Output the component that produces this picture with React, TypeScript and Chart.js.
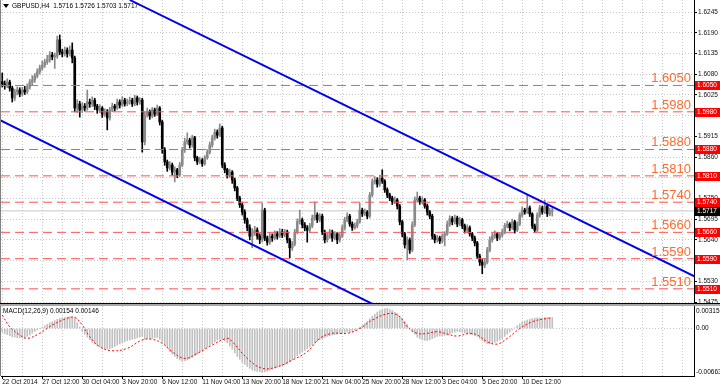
import React, { useEffect, useRef } from 'react';
import { Chart, registerables } from 'chart.js';
Chart.register(...registerables);

// ---------- text ----------
const symbolTitle = 'GBPUSD,H4  1.5716 1.5726 1.5703 1.5717';
const macdTitle = 'MACD(12,26,9) 0.00154 0.00146';
const timeLabels = ['22 Oct 2014', '27 Oct 12:00', '30 Oct 04:00', '3 Nov 20:00', '6 Nov 12:00', '11 Nov 04:00', '13 Nov 20:00', '18 Nov 12:00', '21 Nov 04:00', '25 Nov 20:00', '28 Nov 12:00', '3 Dec 04:00', '5 Dec 20:00', '10 Dec 12:00'];
const barsPerTimeLabel = 16;
const barsPerGridLine = 8;

// ---------- H4 candles ----------
const opens = [
  1.6060,1.6054,1.6049,1.6059,1.6043,1.6017,1.6033,1.6038,1.6027,1.6038,
  1.6033,1.6046,1.6059,1.6065,1.6075,1.6086,1.6096,1.6104,1.6112,1.6118,
  1.6131,1.6126,1.6128,1.6171,1.6139,1.6134,1.6144,1.6134,1.6144,1.6123,
  1.5990,1.6001,1.5985,1.5995,1.5990,1.6006,1.6001,1.6011,1.5995,1.5985,
  1.5990,1.5974,1.5980,1.5964,1.5985,1.5995,1.5990,1.6006,1.5998,1.6011,
  1.6001,1.6006,1.6011,1.6001,1.6017,1.6006,1.6011,1.5900,1.5972,1.5980,
  1.5969,1.5985,1.5974,1.5990,1.5953,1.5879,1.5847,1.5831,1.5839,1.5820,
  1.5826,1.5812,1.5839,1.5879,1.5900,1.5905,1.5892,1.5911,1.5858,1.5847,
  1.5852,1.5842,1.5858,1.5873,1.5892,1.5911,1.5926,1.5918,1.5937,1.5839,
  1.5826,1.5812,1.5820,1.5799,1.5778,1.5751,1.5733,1.5714,1.5693,1.5672,
  1.5650,1.5661,1.5666,1.5650,1.5640,1.5719,1.5645,1.5634,1.5650,1.5645,
  1.5656,1.5650,1.5661,1.5653,1.5661,1.5640,1.5619,1.5629,1.5661,1.5688,
  1.5693,1.5680,1.5672,1.5666,1.5677,1.5698,1.5706,1.5693,1.5703,1.5661,
  1.5640,1.5650,1.5661,1.5645,1.5656,1.5640,1.5650,1.5672,1.5693,1.5703,
  1.5682,1.5672,1.5677,1.5688,1.5719,1.5709,1.5714,1.5703,1.5759,1.5794,
  1.5799,1.5788,1.5804,1.5796,1.5773,1.5759,1.5751,1.5741,1.5746,1.5730,
  1.5688,1.5656,1.5627,1.5640,1.5613,1.5680,1.5746,1.5751,1.5741,1.5746,
  1.5730,1.5714,1.5703,1.5650,1.5640,1.5645,1.5637,1.5650,1.5656,1.5682,
  1.5696,1.5688,1.5698,1.5682,1.5693,1.5677,1.5666,1.5672,1.5656,1.5645,
  1.5632,1.5597,1.5581,1.5573,1.5581,1.5613,1.5640,1.5650,1.5656,1.5645,
  1.5653,1.5661,1.5677,1.5682,1.5672,1.5688,1.5666,1.5682,1.5706,1.5719,
  1.5714,1.5725,1.5709,1.5677,1.5666,1.5706,1.5725,1.5714,1.5730,1.5709,
  1.5716,
];
const highs = [
  1.6083,1.6062,1.6068,1.6064,1.6048,1.6040,1.6046,1.6044,1.6045,1.6048,
  1.6054,1.6066,1.6076,1.6082,1.6094,1.6104,1.6115,1.6120,1.6130,1.6140,
  1.6138,1.6136,1.6181,1.6184,1.6146,1.6152,1.6150,1.6155,1.6163,1.6128,
  1.6012,1.6008,1.6004,1.6002,1.6038,1.6014,1.6020,1.6016,1.6000,1.5999,
  1.5994,1.5988,1.5986,1.5992,1.6003,1.6000,1.6014,1.6012,1.6020,1.6016,
  1.6014,1.6019,1.6016,1.6024,1.6022,1.6018,1.6016,1.5980,1.5990,1.5985,
  1.5992,1.5990,1.5998,1.5994,1.5958,1.5885,1.5852,1.5848,1.5844,1.5834,
  1.5830,1.5846,1.5886,1.5910,1.5924,1.5910,1.5918,1.5915,1.5862,1.5860,
  1.5856,1.5864,1.5880,1.5900,1.5918,1.5934,1.5932,1.5948,1.5942,1.5845,
  1.5830,1.5828,1.5824,1.5804,1.5782,1.5756,1.5738,1.5720,1.5698,1.5680,
  1.5670,1.5676,1.5672,1.5656,1.5738,1.5724,1.5650,1.5658,1.5656,1.5664,
  1.5662,1.5670,1.5668,1.5668,1.5666,1.5644,1.5636,1.5668,1.5696,1.5719,
  1.5698,1.5686,1.5678,1.5684,1.5706,1.5741,1.5712,1.5710,1.5708,1.5666,
  1.5658,1.5668,1.5666,1.5662,1.5660,1.5657,1.5680,1.5700,1.5712,1.5708,
  1.5688,1.5685,1.5695,1.5738,1.5724,1.5722,1.5718,1.5766,1.5802,1.5808,
  1.5805,1.5812,1.5826,1.5800,1.5778,1.5764,1.5756,1.5754,1.5750,1.5734,
  1.5692,1.5660,1.5648,1.5645,1.5688,1.5754,1.5767,1.5756,1.5754,1.5750,
  1.5735,1.5718,1.5708,1.5655,1.5652,1.5650,1.5656,1.5662,1.5690,1.5704,
  1.5702,1.5706,1.5703,1.5700,1.5697,1.5682,1.5680,1.5677,1.5660,1.5650,
  1.5636,1.5602,1.5588,1.5590,1.5620,1.5648,1.5657,1.5664,1.5660,1.5660,
  1.5668,1.5684,1.5690,1.5686,1.5695,1.5692,1.5688,1.5712,1.5728,1.5724,
  1.5759,1.5730,1.5712,1.5682,1.5712,1.5732,1.5730,1.5746,1.5734,1.5724,
  1.5726,
];
const lows = [
  1.6046,1.6040,1.6044,1.6035,1.6006,1.6010,1.6025,1.6020,1.6022,1.6026,
  1.6028,1.6040,1.6052,1.6058,1.6070,1.6080,1.6090,1.6098,1.6106,1.6112,
  1.6118,1.6095,1.6122,1.6132,1.6126,1.6128,1.6125,1.6128,1.6110,1.5980,
  1.5978,1.5966,1.5978,1.5982,1.5984,1.5992,1.5994,1.5986,1.5976,1.5978,
  1.5965,1.5968,1.5932,1.5958,1.5980,1.5982,1.5986,1.5990,1.5994,1.5995,
  1.5996,1.6000,1.5994,1.5996,1.5998,1.6000,1.5873,1.5892,1.5966,1.5960,
  1.5964,1.5968,1.5970,1.5945,1.5870,1.5838,1.5822,1.5826,1.5812,1.5794,
  1.5805,1.5808,1.5834,1.5872,1.5894,1.5884,1.5886,1.5850,1.5840,1.5842,
  1.5835,1.5838,1.5854,1.5868,1.5886,1.5905,1.5910,1.5914,1.5832,1.5818,
  1.5804,1.5806,1.5790,1.5770,1.5744,1.5726,1.5706,1.5684,1.5664,1.5640,
  1.5619,1.5652,1.5642,1.5630,1.5634,1.5638,1.5626,1.5628,1.5636,1.5640,
  1.5642,1.5646,1.5646,1.5648,1.5632,1.5592,1.5612,1.5624,1.5656,1.5682,
  1.5672,1.5664,1.5634,1.5660,1.5672,1.5692,1.5686,1.5688,1.5654,1.5632,
  1.5634,1.5644,1.5636,1.5640,1.5630,1.5634,1.5646,1.5666,1.5688,1.5676,
  1.5665,1.5668,1.5672,1.5684,1.5702,1.5704,1.5696,1.5698,1.5754,1.5788,
  1.5780,1.5782,1.5790,1.5766,1.5752,1.5744,1.5734,1.5736,1.5722,1.5680,
  1.5648,1.5618,1.5587,1.5604,1.5608,1.5675,1.5740,1.5734,1.5736,1.5724,
  1.5706,1.5696,1.5642,1.5632,1.5634,1.5630,1.5632,1.5624,1.5652,1.5676,
  1.5680,1.5682,1.5675,1.5677,1.5670,1.5658,1.5660,1.5650,1.5638,1.5624,
  1.5590,1.5572,1.5550,1.5566,1.5576,1.5608,1.5634,1.5644,1.5638,1.5640,
  1.5648,1.5656,1.5672,1.5664,1.5668,1.5658,1.5662,1.5678,1.5700,1.5708,
  1.5710,1.5702,1.5670,1.5660,1.5662,1.5700,1.5708,1.5710,1.5702,1.5704,
  1.5703,
];
const closes = [
  1.6054,1.6049,1.6059,1.6043,1.6017,1.6033,1.6038,1.6027,1.6038,1.6033,
  1.6046,1.6059,1.6065,1.6075,1.6086,1.6096,1.6104,1.6112,1.6118,1.6131,
  1.6126,1.6128,1.6171,1.6139,1.6134,1.6144,1.6134,1.6144,1.6123,1.5990,
  1.6001,1.5985,1.5995,1.5990,1.6006,1.6001,1.6011,1.5995,1.5985,1.5990,
  1.5974,1.5980,1.5964,1.5985,1.5995,1.5990,1.6006,1.5998,1.6011,1.6001,
  1.6006,1.6011,1.6001,1.6017,1.6006,1.6011,1.5900,1.5972,1.5980,1.5969,
  1.5985,1.5974,1.5990,1.5953,1.5879,1.5847,1.5831,1.5839,1.5820,1.5826,
  1.5812,1.5839,1.5879,1.5900,1.5905,1.5892,1.5911,1.5858,1.5847,1.5852,
  1.5842,1.5858,1.5873,1.5892,1.5911,1.5926,1.5918,1.5937,1.5839,1.5826,
  1.5812,1.5820,1.5799,1.5778,1.5751,1.5733,1.5714,1.5693,1.5672,1.5650,
  1.5661,1.5666,1.5650,1.5640,1.5719,1.5645,1.5634,1.5650,1.5645,1.5656,
  1.5650,1.5661,1.5653,1.5661,1.5640,1.5619,1.5629,1.5661,1.5688,1.5693,
  1.5680,1.5672,1.5666,1.5677,1.5698,1.5706,1.5693,1.5703,1.5661,1.5640,
  1.5650,1.5661,1.5645,1.5656,1.5640,1.5650,1.5672,1.5693,1.5703,1.5682,
  1.5672,1.5677,1.5688,1.5719,1.5709,1.5714,1.5703,1.5759,1.5794,1.5799,
  1.5788,1.5804,1.5796,1.5773,1.5759,1.5751,1.5741,1.5746,1.5730,1.5688,
  1.5656,1.5627,1.5640,1.5613,1.5680,1.5746,1.5751,1.5741,1.5746,1.5730,
  1.5714,1.5703,1.5650,1.5640,1.5645,1.5637,1.5650,1.5656,1.5682,1.5696,
  1.5688,1.5698,1.5682,1.5693,1.5677,1.5666,1.5672,1.5656,1.5645,1.5632,
  1.5597,1.5581,1.5573,1.5581,1.5613,1.5640,1.5650,1.5656,1.5645,1.5653,
  1.5661,1.5677,1.5682,1.5672,1.5688,1.5666,1.5682,1.5706,1.5719,1.5714,
  1.5725,1.5709,1.5677,1.5666,1.5706,1.5725,1.5714,1.5730,1.5709,1.5716,
  1.5717,
];

// ---------- price axis, levels, channel ----------
const priceTicks = [1.5475, 1.5530, 1.5585, 1.5640, 1.5695, 1.5750, 1.5805, 1.5860, 1.5915, 1.5970, 1.6025, 1.6080, 1.6135, 1.6190, 1.6245];
const levelValues = [1.6050, 1.5980, 1.5880, 1.5810, 1.5740, 1.5660, 1.5590, 1.5510];
const currentPrice = 1.5717;
// trend channel anchors: [bar index, price]
const upperChannel = [[51, 1.6277], [277, 1.5543]];
const lowerChannel = [[-1, 1.5958], [149, 1.5467]];

// ---------- MACD (units of 0.00001) ----------
const macdValues = [
  -50,-70,-85,-100,-115,-120,-128,-130,-128,-125,
  -110,-90,-65,-40,-20,0,20,40,60,80,
  95,110,130,140,150,155,160,165,160,150,
  80,20,-40,-80,-120,-155,-190,-215,-240,-255,
  -270,-280,-285,-280,-270,-250,-230,-215,-200,-185,
  -170,-160,-150,-140,-130,-120,-110,-150,-140,-140,
  -140,-130,-125,-150,-180,-230,-270,-320,-360,-390,
  -420,-440,-460,-450,-440,-420,-400,-380,-360,-330,
  -300,-280,-260,-235,-210,-185,-160,-150,-150,-175,
  -200,-245,-290,-340,-390,-430,-470,-500,-530,-555,
  -580,-590,-600,-605,-610,-605,-600,-585,-570,-555,
  -540,-530,-520,-505,-490,-465,-440,-410,-380,-355,
  -330,-305,-280,-255,-230,-205,-180,-160,-140,-125,
  -110,-100,-90,-85,-80,-70,-60,-55,-50,-45,
  -40,-25,-10,15,40,70,100,135,170,200,
  230,250,270,275,280,265,250,230,210,175,
  140,100,60,10,-40,-80,-120,-140,-160,-165,
  -170,-155,-140,-125,-110,-105,-100,-95,-90,-75,
  -60,-50,-40,-45,-50,-60,-70,-80,-90,-100,
  -110,-140,-170,-190,-210,-212,-210,-195,-180,-160,
  -140,-110,-80,-50,-20,10,40,65,90,105,
  120,130,140,145,150,150,150,152,155,154,
  154,
];
const signalBars = [0,3,7,10,15,20,26,29,32,35,39,44,50,56,60,64,68,73,78,84,90,92,98,104,110,116,122,127,132,138,143,148,155,159,162,166,170,174,178,182,187,190,194,198,202,207,212,218,220];
const signalValues = [189,25,-90,-137,-67,49,142,156,49,-114,-254,-310,-277,-160,-151,-207,-324,-417,-347,-230,-137,-184,-417,-556,-534,-440,-324,-137,-67,-67,0,119,212,165,25,-67,-67,-44,-77,-105,-67,-90,-184,-217,-137,0,95,142,146];
const macdUnit = 0.00001;
const macdTop = 0.00315;
const macdBottom = -0.00663;

// ---------- layout / style ----------
const W = 720;
const MAIN_H = 305;
const MACD_H = 84;
const AXIS_W = 26;
const X_MIN = -0.5;
const X_MAX = 276.7;
const PRICE_MIN = 1.54724;
const PRICE_MAX = 1.62769;
const FAMILY = '"Liberation Sans", Arial, sans-serif';
const SMALL = `6.5px ${FAMILY}`;
const GRID = '#c6c6c6';
const BULL = '#8a8a8a';
const BEAR = '#000000';
const LEVEL_LINE = '#ff5252';
const LEVEL_TEXT = '#ff6a2e';
const CHANNEL = '#0000ee';

const gridTicks = (): { value: number }[] => {
  const t: { value: number }[] = [];
  for (let v = 0; v <= X_MAX; v += barsPerGridLine) t.push({ value: v });
  return t;
};

const noPad = (s: any) => {
  s.paddingTop = 0;
  s.paddingBottom = 0;
  s.paddingLeft = 0;
  s.paddingRight = 0;
};

const mainOverlay = {
  id: 'mainOverlay',
  afterDraw(chart: any) {
    const { ctx, chartArea, scales } = chart;
    const y = scales.y;
    ctx.save();
    ctx.fillStyle = '#808080';
    ctx.fillRect(0, 0, 1, chart.height);
    levelValues.forEach((v) => {
      const py = Math.round(y.getPixelForValue(v));
      ctx.font = `13px ${FAMILY}`;
      ctx.fillStyle = LEVEL_TEXT;
      ctx.textAlign = 'right';
      ctx.textBaseline = 'alphabetic';
      ctx.fillText(v.toFixed(4), chartArea.right - 3, py - 3);
      ctx.fillStyle = '#ff0000';
      ctx.fillRect(chartArea.right + 1, py - 4, AXIS_W - 1, 9);
      ctx.fillStyle = '#ffffff';
      ctx.font = SMALL;
      ctx.textAlign = 'left';
      ctx.textBaseline = 'middle';
      ctx.fillText(v.toFixed(4), chartArea.right + 3, py + 0.5);
    });
    const cp = Math.round(y.getPixelForValue(currentPrice));
    ctx.fillStyle = '#000000';
    ctx.fillRect(chartArea.right + 1, cp - 4, AXIS_W - 1, 9);
    ctx.fillStyle = '#ffffff';
    ctx.font = SMALL;
    ctx.textAlign = 'left';
    ctx.textBaseline = 'middle';
    ctx.fillText(currentPrice.toFixed(4), chartArea.right + 3, cp + 0.5);
    ctx.fillStyle = '#000000';
    ctx.beginPath();
    ctx.moveTo(3, 4);
    ctx.lineTo(9, 4);
    ctx.lineTo(6, 8);
    ctx.closePath();
    ctx.fill();
    ctx.font = SMALL;
    ctx.textAlign = 'left';
    ctx.textBaseline = 'middle';
    ctx.fillText(symbolTitle, 12, 6.5);
    ctx.fillStyle = '#000000';
    ctx.fillRect(0, chartArea.bottom, W, 1);
    ctx.fillStyle = '#a8a8a8';
    ctx.fillRect(0, chartArea.bottom + 1, W, chart.height - chartArea.bottom - 1);
    ctx.restore();
  },
};

const macdOverlay = {
  id: 'macdOverlay',
  afterDraw(chart: any) {
    const { ctx, chartArea, scales } = chart;
    const y = scales.y;
    ctx.save();
    ctx.fillStyle = '#a8a8a8';
    ctx.fillRect(0, 0, W, chartArea.top);
    ctx.fillStyle = '#808080';
    ctx.fillRect(0, chartArea.top, 1, chartArea.bottom - chartArea.top);
    ctx.fillStyle = '#000000';
    ctx.font = SMALL;
    ctx.textAlign = 'left';
    ctx.textBaseline = 'middle';
    ctx.fillText(macdTitle, 3, chartArea.top + 5.5);
    const x0 = chartArea.right + 2;
    ctx.fillText(macdTop.toFixed(5), x0, chartArea.top + 5);
    ctx.fillText('0.00', x0, y.getPixelForValue(0));
    ctx.fillText(macdBottom.toFixed(5), x0, chartArea.bottom - 4);
    ctx.restore();
  },
};

export default function App() {
  const mainRef = useRef<HTMLCanvasElement>(null);
  const macdRef = useRef<HTMLCanvasElement>(null);

  useEffect(() => {
    const barColors = closes.map((c, i) => (c >= opens[i] ? BULL : BEAR));
    const bodies = closes.map((c, i) => ({ x: i, y: [opens[i], c] }));
    const wicks = closes.map((_, i) => ({ x: i, y: [lows[i], highs[i]] }));
    const hLine = (v: number) => [{ x: X_MIN, y: v }, { x: X_MAX, y: v }];
    const lineBase = { type: 'line', pointRadius: 0, borderWidth: 1, fill: false };

    const main = new Chart(mainRef.current as HTMLCanvasElement, {
      type: 'bar',
      data: {
        datasets: [
          { ...lineBase, data: upperChannel.map(([x, y]) => ({ x, y })), borderColor: CHANNEL, borderWidth: 2 },
          { ...lineBase, data: lowerChannel.map(([x, y]) => ({ x, y })), borderColor: CHANNEL, borderWidth: 2 },
          ...levelValues.map((v) => ({ ...lineBase, data: hLine(v), borderColor: LEVEL_LINE, borderDash: [9, 5] })),
          { type: 'bar', data: bodies, backgroundColor: barColors, grouped: false, barThickness: 2, maxBarThickness: 2, minBarLength: 1 },
          { type: 'bar', data: wicks, backgroundColor: barColors, grouped: false, barThickness: 1, maxBarThickness: 1 },
          { ...lineBase, data: hLine(currentPrice), borderColor: '#c8c8c8' },
        ] as any,
      },
      options: {
        animation: false,
        responsive: false,
        maintainAspectRatio: false,
        events: [],
        layout: { padding: { left: 1, top: 0, right: 0, bottom: 2 } },
        plugins: { legend: { display: false }, tooltip: { enabled: false } },
        scales: {
          x: {
            type: 'linear', min: X_MIN, max: X_MAX, offset: false,
            afterBuildTicks: (s: any) => { s.ticks = gridTicks(); },
            afterFit: (s: any) => { s.height = 0; noPad(s); },
            ticks: { display: false },
            grid: { color: GRID, drawTicks: false, offset: false },
            border: { display: false, dash: [1, 2] },
          },
          y: {
            type: 'linear', position: 'right', min: PRICE_MIN, max: PRICE_MAX,
            afterBuildTicks: (s: any) => { s.ticks = priceTicks.map((v) => ({ value: v })); },
            afterFit: (s: any) => { s.width = AXIS_W; noPad(s); },
            ticks: { color: '#111', font: { family: FAMILY, size: 6.5 }, padding: 1, callback: (v: any) => Number(v).toFixed(4) },
            grid: { color: GRID, tickLength: 3, tickColor: '#000', tickBorderDash: [] },
            border: { display: true, color: '#000', dash: [1, 2] },
          },
        },
      } as any,
      plugins: [mainOverlay],
    });

    const macd = new Chart(macdRef.current as HTMLCanvasElement, {
      type: 'bar',
      data: {
        datasets: [
          { ...lineBase, data: signalBars.map((x, i) => ({ x, y: signalValues[i] * macdUnit })), borderColor: '#ff0000', borderDash: [2, 2], tension: 0.4 },
          { type: 'bar', data: macdValues.map((v, i) => ({ x: i, y: v * macdUnit })), backgroundColor: '#c0c0c0', grouped: false, barThickness: 1, maxBarThickness: 1 },
        ] as any,
      },
      options: {
        animation: false,
        responsive: false,
        maintainAspectRatio: false,
        events: [],
        layout: { padding: { left: 1, top: 1, right: 0, bottom: 0 } },
        plugins: { legend: { display: false }, tooltip: { enabled: false } },
        scales: {
          x: {
            type: 'linear', min: X_MIN, max: X_MAX, offset: false,
            afterBuildTicks: (s: any) => { s.ticks = gridTicks(); },
            afterFit: (s: any) => { s.height = 13; noPad(s); },
            ticks: {
              autoSkip: false, maxRotation: 0, align: 'start', padding: -1, color: '#111',
              font: { family: FAMILY, size: 6.5 },
              callback: (v: any) => {
                const n = Number(v);
                return n % barsPerTimeLabel === 0 && timeLabels[n / barsPerTimeLabel] ? timeLabels[n / barsPerTimeLabel] : '';
              },
            },
            grid: {
              color: GRID, offset: false, tickLength: 3, tickBorderDash: [],
              tickColor: (c: any) => (c.tick && c.tick.value % barsPerTimeLabel === 0 && c.tick.value / barsPerTimeLabel < timeLabels.length ? '#000' : 'rgba(0,0,0,0)'),
            },
            border: { display: true, color: '#000', dash: [1, 2] },
          },
          y: {
            type: 'linear', position: 'right', min: macdBottom, max: macdTop,
            afterBuildTicks: (s: any) => { s.ticks = [{ value: 0 }]; },
            afterFit: (s: any) => { s.width = AXIS_W; noPad(s); },
            ticks: { display: false },
            grid: { color: GRID, drawTicks: false },
            border: { display: true, color: '#000', dash: [1, 2] },
          },
        },
      } as any,
      plugins: [macdOverlay],
    });

    return () => {
      main.destroy();
      macd.destroy();
    };
  }, []);

  return (
    <div style={{ position: 'fixed', left: 0, top: 0, width: W, height: MAIN_H + MACD_H, background: '#fff', overflow: 'hidden' }}>
      <canvas ref={mainRef} width={W} height={MAIN_H} style={{ position: 'absolute', left: 0, top: 0, width: W, height: MAIN_H }} />
      <canvas ref={macdRef} width={W} height={MACD_H} style={{ position: 'absolute', left: 0, top: MAIN_H, width: W, height: MACD_H }} />
    </div>
  );
}
